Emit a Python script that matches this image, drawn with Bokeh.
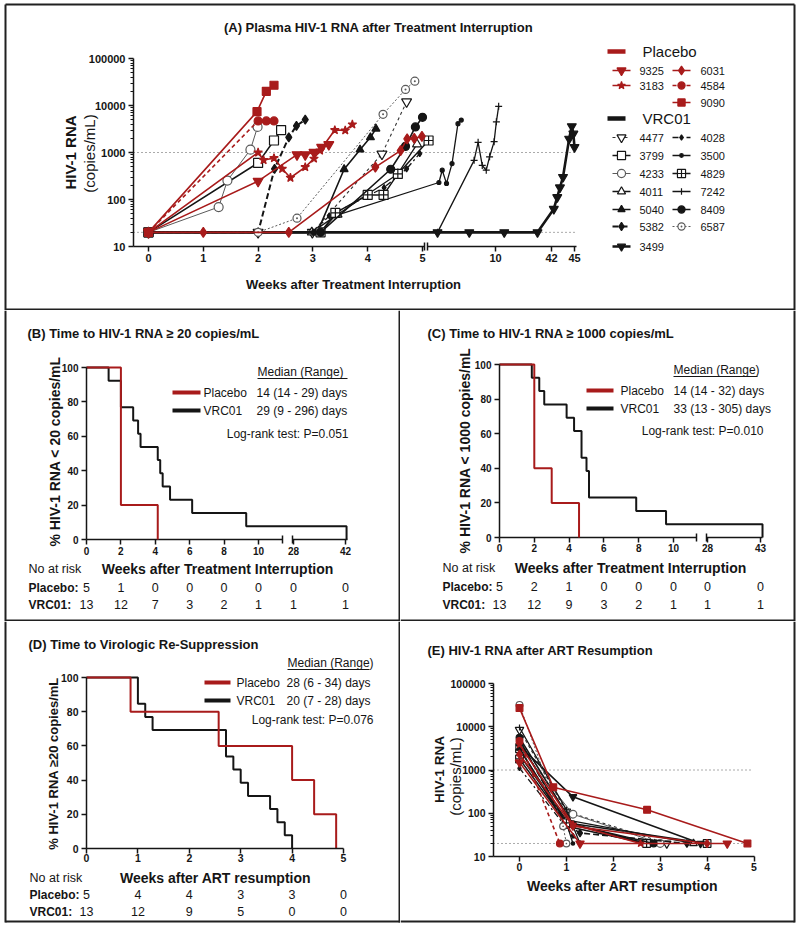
import math
from bokeh.plotting import figure
from bokeh.models import Range1d, FixedTicker, Label, NumeralTickFormatter
from bokeh.layouts import column, row
from bokeh.embed import file_html
from bokeh.resources import INLINE

FONT = "Liberation Sans"
RED = "#A81B1B"
INK = "#151515"
GREY = "#5a5a5a"

# ============================ DATA ============================
# (A) plasma HIV-1 RNA (copies/mL) vs weeks after treatment interruption
A_9325_wk = [0, 2.0, 2.71, 2.86, 3.02, 3.16, 3.29]
A_9325_rna = [20, 245, 900, 900, 1010, 1290, 1480]
A_3183_wk = [0, 2.0, 2.1, 2.29, 2.44, 2.59, 2.86, 3.02, 3.13, 3.4, 3.59, 3.72]
A_3183_rna = [20, 1000, 690, 760, 450, 290, 490, 740, 1100, 3000, 2950, 3950]
A_6031_wk = [0, 1.0, 2.56, 4.14, 4.6, 4.72, 4.85, 4.99]
A_6031_rna = [20, 20, 20, 490, 1100, 1950, 2000, 2200]
A_4584_wk = [0, 2.0, 2.15, 2.29]
A_4584_rna = [20, 4700, 4700, 4700]
A_9090_wk = [0, 1.98, 2.15, 2.29]
A_9090_rna = [20, 7400, 20000, 27000]
A_4477_wk = [0, 2.0, 2.99, 4.26, 4.71]
A_4477_rna = [20, 20, 20, 930, 12000]
A_3799_wk = [0, 2.0, 2.29, 2.42]
A_3799_rna = [20, 600, 1800, 3000]
A_4233_wk = [0, 1.28, 1.44, 1.86, 1.99]
A_4233_rna = [20, 69, 253, 1150, 3500]
A_4011_wk = [0, 2.98, 3.45, 4.55, 4.9]
A_4011_rna = [20, 20, 48, 350, 1500]
A_5040_wk = [0, 3.08, 3.57, 3.86, 4.05, 4.15]
A_5040_rna = [20, 20, 440, 1150, 2100, 3200]
A_5382_wk = [0, 2.0, 2.3, 2.56, 2.7, 2.86]
A_5382_rna = [20, 20, 450, 2100, 3700, 5000]
A_3499_wk = [0, 5.8, 8.1, 15.0, 34.0, 42.3, 42.75, 43.1, 43.5, 44.3, 44.65, 44.85, 45.0]
A_3499_rna = [20, 20, 20, 20, 20, 63, 112, 180, 300, 1950, 3600, 2500, 1300]
A_4028_wk = [0, 3.0, 3.3, 4.3, 4.71, 4.95]
A_4028_rna = [20, 20, 45, 180, 450, 950]
A_3500_wk = [0, 3.14, 3.4, 5.9, 6.14, 6.45, 6.85, 7.28, 7.52]
A_3500_rna = [20, 20, 45, 230, 420, 220, 580, 4100, 4900]
A_4829_wk = [0, 3.14, 3.41, 4.0, 4.29, 4.55, 5.15]
A_4829_rna = [20, 20, 52, 125, 125, 350, 1800]
A_7242_wk = [0, 5.8, 8.45, 8.74, 9.04, 9.33, 9.57, 9.9, 10.5, 11.8]
A_7242_rna = [20, 20, 680, 1650, 530, 420, 810, 1700, 4500, 9600]
A_8409_wk = [0, 3.14, 4.42, 4.69, 4.87, 5.0]
A_8409_rna = [20, 20, 440, 1350, 3500, 5600]
A_6587_wk = [0, 2.0, 2.71, 4.28, 4.69, 4.86]
A_6587_rna = [20, 20, 40, 6500, 22000, 33000]
A_XTICKS = [0, 1, 2, 3, 4, 5, 10, 42, 45]
RNA_YTICKS = [10, 100, 1000, 10000, 100000]
RNA_THRESHOLDS = [20, 1000]

# (E) HIV-1 RNA (copies/mL) vs weeks after ART resumption
E_9325_wk, E_9325_rna = [0, 1.29, 4.43], [1500, 20, 20]
E_3183_wk, E_3183_rna = [0, 1.14, 2.58], [3900, 55, 20]
E_6031_wk, E_6031_rna = [0, 1.14, 4.0], [2300, 50, 20]
E_4584_wk, E_4584_rna = [0, 0.86], [4700, 20]
E_9090_wk, E_9090_rna = [0, 0.72, 2.72, 4.86], [27000, 400, 120, 20]
E_4477_wk, E_4477_rna = [0, 1.0, 3.14], [8500, 110, 20]
E_3799_wk, E_3799_rna = [0, 1.0, 4.0], [3100, 60, 20]
E_4233_wk, E_4233_rna = [0, 1.14, 3.0], [3400, 95, 20]
E_4011_wk, E_4011_rna = [0, 1.0, 3.71], [2200, 70, 20]
E_5040_wk, E_5040_rna = [0, 1.0, 2.71], [3200, 50, 20]
E_5382_wk, E_5382_rna = [0, 1.0, 1.29, 3.57], [5000, 55, 35, 20]
E_3499_wk, E_3499_rna = [0, 1.14, 3.86], [3600, 240, 20]
E_4028_wk, E_4028_rna = [0, 1.14, 1.29], [1100, 30, 20]
E_3500_wk, E_3500_rna = [0, 1.0, 1.14], [4900, 60, 20]
E_4829_wk, E_4829_rna = [0, 1.0, 2.71], [1800, 60, 20]
E_7242_wk, E_7242_rna = [0, 1.0, 1.29], [9600, 120, 20]
E_8409_wk, E_8409_rna = [0, 1.14, 2.86], [5600, 55, 20]
E_6587_wk, E_6587_rna = [0, 0.93, 1.0], [32000, 50, 20]
E_XTICKS = [0, 1, 2, 3, 4, 5]

# (B) days to HIV-1 RNA >= 20 copies/mL
B_placebo_days = [14, 14, 14, 14, 29]
B_vrc01_days = [9, 14, 14, 19, 21, 22, 29, 30, 31, 34, 43, 65, 296]
B_XTICKS = [0, 2, 4, 6, 8, 10, 28, 42]
B_nar_placebo = [5, 1, 0, 0, 0, 0, 0, 0]
B_nar_vrc01 = [13, 12, 7, 3, 2, 1, 1, 1]
B_median = ["14 (14 - 29) days", "29 (9 - 296) days"]
B_logrank = "Log-rank test: P=0.051"

# (C) days to HIV-1 RNA >= 1000 copies/mL
C_placebo_days = [14, 14, 14, 21, 32]
C_vrc01_days = [13, 16, 18, 27, 30, 33, 33, 35, 36, 36, 55, 67, 305]
C_XTICKS = [0, 2, 4, 6, 8, 10, 28, 43]
C_nar_placebo = [5, 2, 1, 0, 0, 0, 0, 0]
C_nar_vrc01 = [13, 12, 9, 3, 2, 1, 1, 1]
C_median = ["14 (14 - 32) days", "33 (13 - 305) days"]
C_logrank = "Log-rank test: P=0.010"

# (D) days to virologic re-suppression after ART resumption
D_placebo_days = [6, 18, 28, 31, 34]
D_vrc01_days = [7, 7, 8, 9, 19, 19, 20, 21, 22, 25, 26, 27, 28]
D_XTICKS = [0, 1, 2, 3, 4, 5]
D_nar_placebo = [5, 4, 4, 3, 3, 0]
D_nar_vrc01 = [13, 12, 9, 5, 0, 0]
D_median = ["28 (6 - 34) days", "20 (7 - 28) days"]
D_logrank = "Log-rank test: P=0.076"

KM_YTICKS = [0, 20, 40, 60, 80, 100]

# ============================ STYLES ============================
STY = {
    "9325": dict(c=RED, mc=RED, m="inverted_triangle", fill=RED, dash="solid", lw=1.6, s=10),
    "3183": dict(c=RED, mc=RED, m="star", fill=RED, dash="solid", lw=1.6, s=9),
    "6031": dict(c=RED, mc=RED, m="diamond", fill=RED, dash="solid", lw=1.6, s=10),
    "4584": dict(c=RED, mc=RED, m="circle", fill=RED, dash="4 3", lw=1.6, s=8),
    "9090": dict(c=RED, mc=RED, m="square", fill=RED, dash="solid", lw=1.6, s=8),
    "4477": dict(c="#333333", mc=INK, m="inverted_triangle", fill="white", dash="3 3", lw=1.1, s=10),
    "3799": dict(c=INK, mc=INK, m="square", fill="white", dash="solid", lw=1.5, s=9),
    "4233": dict(c=GREY, mc=GREY, m="circle", fill="white", dash="solid", lw=1.0, s=9),
    "4011": dict(c=INK, mc=INK, m="triangle", fill="white", dash="solid", lw=1.3, s=9),
    "5040": dict(c=INK, mc=INK, m="triangle", fill=INK, dash="solid", lw=1.6, s=8),
    "5382": dict(c=INK, mc=INK, m="diamond", fill=INK, dash="6 3", lw=2.0, s=9),
    "3499": dict(c=INK, mc=INK, m="inverted_triangle", fill=INK, dash="solid", lw=2.6, s=9),
    "4028": dict(c=INK, mc=INK, m="diamond", fill=INK, dash="6 3 2 3", lw=1.3, s=6),
    "3500": dict(c=INK, mc=INK, m="circle", fill=INK, dash="solid", lw=1.3, s=4),
    "4829": dict(c=INK, mc=INK, m="square_cross", fill="white", dash="solid", lw=1.5, s=9),
    "7242": dict(c=INK, mc=INK, m="cross", fill=INK, dash="solid", lw=1.3, s=7),
    "8409": dict(c=INK, mc=INK, m="circle", fill=INK, dash="solid", lw=1.6, s=8),
    "6587": dict(c=GREY, mc=GREY, m="circle_dot", fill="white", dash="2 2", lw=1.0, s=8),
}
VRC_IDS = ["4477", "3799", "4233", "4011", "5040", "5382", "3499",
           "4028", "3500", "4829", "7242", "8409", "6587"]
PLA_IDS = ["9325", "3183", "6031", "4584", "9090"]
A_SER = {"9325": (A_9325_wk, A_9325_rna), "3183": (A_3183_wk, A_3183_rna),
         "6031": (A_6031_wk, A_6031_rna), "4584": (A_4584_wk, A_4584_rna),
         "9090": (A_9090_wk, A_9090_rna), "4477": (A_4477_wk, A_4477_rna),
         "3799": (A_3799_wk, A_3799_rna), "4233": (A_4233_wk, A_4233_rna),
         "4011": (A_4011_wk, A_4011_rna), "5040": (A_5040_wk, A_5040_rna),
         "5382": (A_5382_wk, A_5382_rna), "3499": (A_3499_wk, A_3499_rna),
         "4028": (A_4028_wk, A_4028_rna), "3500": (A_3500_wk, A_3500_rna),
         "4829": (A_4829_wk, A_4829_rna), "7242": (A_7242_wk, A_7242_rna),
         "8409": (A_8409_wk, A_8409_rna), "6587": (A_6587_wk, A_6587_rna)}
E_SER = {"9325": (E_9325_wk, E_9325_rna), "3183": (E_3183_wk, E_3183_rna),
         "6031": (E_6031_wk, E_6031_rna), "4584": (E_4584_wk, E_4584_rna),
         "9090": (E_9090_wk, E_9090_rna), "4477": (E_4477_wk, E_4477_rna),
         "3799": (E_3799_wk, E_3799_rna), "4233": (E_4233_wk, E_4233_rna),
         "4011": (E_4011_wk, E_4011_rna), "5040": (E_5040_wk, E_5040_rna),
         "5382": (E_5382_wk, E_5382_rna), "3499": (E_3499_wk, E_3499_rna),
         "4028": (E_4028_wk, E_4028_rna), "3500": (E_3500_wk, E_3500_rna),
         "4829": (E_4829_wk, E_4829_rna), "7242": (E_7242_wk, E_7242_rna),
         "8409": (E_8409_wk, E_8409_rna), "6587": (E_6587_wk, E_6587_rna)}


# ============================ HELPERS ============================
class Geo:
    """Panel geometry in page pixels; converts page px <-> data units."""
    def __init__(self, box, xpx0, xppu, ypx0, yppu, ylog=False, segs=None):
        self.box = box
        self.xpx0, self.xppu, self.ypx0, self.yppu = xpx0, xppu, ypx0, yppu
        self.ylog, self.segs = ylog, segs

    def x(self, px):
        return (px - self.xpx0) / self.xppu

    def y(self, py):
        v = (self.ypx0 - py) / self.yppu
        return 10 ** (1 + v) if self.ylog else v

    def w(self, weeks):  # weeks -> x data (broken axes)
        if not self.segs:
            return weeks
        for (w0, w1, p0, p1) in self.segs:
            if weeks <= w1:
                return self.x(p0 + (weeks - w0) * (p1 - p0) / (w1 - w0))
        w0, w1, p0, p1 = self.segs[-1]
        return self.x(p0 + (weeks - w0) * (p1 - p0) / (w1 - w0))


def make_fig(g, borders):
    bx, by, bw, bh = g.box
    p = figure(width=bw, height=bh,
               x_range=Range1d(g.x(bx), g.x(bx + bw)), y_range=Range1d(g.y(by + bh), g.y(by)),
               y_axis_type="log" if g.ylog else "linear",
               output_backend="svg", toolbar_location=None, min_border=0,
               min_border_left=0, min_border_right=0, min_border_top=0, min_border_bottom=0)
    p.xgrid.visible = False
    p.ygrid.visible = False
    p.outline_line_color = None
    p.background_fill_color = "white"
    p.border_fill_color = "white"
    for (x1, y1, x2, y2) in borders:
        p.line([g.x(x1), g.x(x2)], [g.y(y1), g.y(y2)], line_color="#202020", line_width=2)
    return p


def style_axis(ax, size="11px"):
    ax.axis_line_color = INK
    ax.axis_line_width = 1.5
    ax.major_tick_line_color = INK
    ax.major_tick_line_width = 1.5
    ax.minor_tick_line_color = INK
    ax.minor_tick_line_width = 1.1
    ax.major_label_text_font = FONT
    ax.major_label_text_font_style = "bold"
    ax.major_label_text_font_size = size
    ax.major_label_text_color = INK


def label(p, g, px, py, text, size, bold=False, align="left", angle=0.0, color=INK):
    p.add_layout(Label(x=g.x(px), y=g.y(py), text=text, text_font=FONT,
                       text_font_size=size, text_font_style="bold" if bold else "normal",
                       text_align=align, text_baseline="middle", angle=angle,
                       text_color=color))


def seg(p, g, px1, px2, py, color, width, dash="solid"):
    p.line([g.x(px1), g.x(px2)], [g.y(py), g.y(py)], line_color=color,
           line_width=width, line_dash=dash)


def draw_subject(p, g, wk, rna, st, scale=1.0, max_lw=None):
    xs = [g.w(w) for w in wk]
    lw = st["lw"] if max_lw is None else min(st["lw"], max_lw)
    p.line(xs, rna, line_color=st["c"], line_width=lw, line_dash=st["dash"])
    p.scatter(xs, rna, marker=st["m"], size=st["s"] * scale, fill_color=st["fill"],
              line_color=st["mc"], line_width=1.2)


def km_xy(days):
    n = len(days)
    xs, ys = [0.0], [100.0]
    left, s = n, 100.0
    for t in sorted(set(days)):
        wk = t / 7.0
        xs.append(wk); ys.append(s)
        left -= days.count(t)
        s = 100.0 * left / n
        xs.append(wk); ys.append(s)
    return xs, ys


def rna_yaxis(ax, size, at_x):
    style_axis(ax, size)
    ax.fixed_location = at_x
    ax.ticker = FixedTicker(ticks=RNA_YTICKS,
                            minor_ticks=[m * 10 ** k for k in range(1, 5) for m in range(2, 10)])
    ax.formatter = NumeralTickFormatter(format="0")
    ax.bounds = (10, 100000)
    ax.major_tick_in = 0
    ax.major_tick_out = 5
    ax.minor_tick_in = 0
    ax.minor_tick_out = 3
    ax.major_label_standoff = 3


# ============================ PANEL A ============================
gA = Geo(box=(0, 0, 800, 310), xpx0=148, xppu=54.8, ypx0=246, yppu=47, ylog=True,
         segs=[(0, 5, 148, 422), (5, 10, 426, 495), (10, 42, 495, 551), (42, 45, 551, 574)])
pA = make_fig(gA, [(5, 4, 794, 4), (5, 4, 5, 310), (794, 4, 794, 310), (5, 309, 794, 309)])
xa = pA.xaxis[0]
style_axis(xa, "11px")
xa.fixed_location = 10
xa.ticker = FixedTicker(ticks=[gA.w(t) for t in A_XTICKS])
xa.major_label_overrides = {gA.w(t): str(t) for t in A_XTICKS}
xa.axis_line_color = None
xa.major_tick_in = 0
xa.major_tick_out = 5
xa.major_label_standoff = 2
rna_yaxis(pA.yaxis[0], "11px", gA.x(133))

for v in RNA_THRESHOLDS:
    pA.line([gA.x(133), gA.x(576)], [v, v], line_color="#555555", line_width=1, line_dash="1 3")
pA.multi_line(xs=[[gA.x(133), gA.x(424)], [gA.x(427), gA.x(576)]], ys=[[10, 10], [10, 10]],
              line_color=INK, line_width=1.5)
pA.multi_line(xs=[[gA.x(424)] * 2, [gA.x(427)] * 2], ys=[[gA.y(250), gA.y(242)]] * 2,
              line_color=INK, line_width=1.5)

for sid in VRC_IDS + PLA_IDS:
    wk, rna = A_SER[sid]
    draw_subject(pA, gA, wk, rna, STY[sid])

# legend (A)
seg(pA, gA, 607, 625, 51, RED, 4.5)
label(pA, gA, 642, 51, "Placebo", "15px")
seg(pA, gA, 607, 625, 118, INK, 4.5)
label(pA, gA, 642, 118, "VRC01", "15px")
LEG_COLS = {"L": (612, 630, 639), "R": (672, 690, 700)}
LEG_A = [("9325", "L", 70), ("3183", "L", 85), ("6031", "R", 70), ("4584", "R", 85),
         ("9090", "R", 102), ("4477", "L", 137), ("3799", "L", 155), ("4233", "L", 173),
         ("4011", "L", 191), ("5040", "L", 209), ("5382", "L", 226), ("3499", "L", 246),
         ("4028", "R", 137), ("3500", "R", 155), ("4829", "R", 173), ("7242", "R", 191),
         ("8409", "R", 209), ("6587", "R", 226)]
for sid, col, py in LEG_A:
    x1, x2, tx = LEG_COLS[col]
    st = STY[sid]
    pA.line([gA.x(x1), gA.x(x2)], [gA.y(py)] * 2, line_color=st["c"], line_width=st["lw"],
            line_dash=st["dash"])
    pA.scatter([gA.x((x1 + x2) / 2)], [gA.y(py)], marker=st["m"], size=st["s"] * 0.9,
               fill_color=st["fill"], line_color=st["mc"], line_width=1.2)
    label(pA, gA, tx, py, sid, "11px")

label(pA, gA, 378, 27, "(A) Plasma HIV-1 RNA after Treatment Interruption", "13px", True, "center")
label(pA, gA, 353, 284, "Weeks after Treatment Interruption", "13px", True, "center")
label(pA, gA, 70, 152, "HIV-1 RNA", "15px", True, "center", math.pi / 2)
label(pA, gA, 89, 153, "(copies/mL)", "15px", False, "center", math.pi / 2)


# ============================ KM PANELS ============================
def km_panel(g, sp):
    p = make_fig(g, sp["borders"])
    xa = p.xaxis[0]
    style_axis(xa, sp["tick_fs"])
    xa.fixed_location = 0
    xa.ticker = FixedTicker(ticks=[g.w(t) for t in sp["xticks"]])
    xa.major_label_overrides = {g.w(t): str(t) for t in sp["xticks"]}
    xa.major_tick_in = 0
    xa.major_tick_out = 5
    xa.major_label_standoff = sp["standoff"]
    if sp["axis_px"]:
        xa.axis_line_color = None
        a = sp["axis_px"]
        p.multi_line(xs=[[g.x(a[0][0]), g.x(a[0][1])], [g.x(a[1][0]), g.x(a[1][1])]],
                     ys=[[0, 0], [0, 0]], line_color=INK, line_width=1.5)
        p.multi_line(xs=[[g.x(a[0][1])] * 2, [g.x(a[1][0])] * 2],
                     ys=[[g.y(g.ypx0 + 4), g.y(g.ypx0 - 4)]] * 2, line_color=INK, line_width=1.5)
    else:
        xa.bounds = (sp["xticks"][0], sp["xticks"][-1])
    ya = p.yaxis[0]
    style_axis(ya, sp["tick_fs"])
    ya.fixed_location = 0
    ya.ticker = FixedTicker(ticks=KM_YTICKS)
    ya.bounds = (0, 100)
    ya.major_tick_in = 0
    ya.major_tick_out = 5
    ya.major_label_standoff = 3

    for days, col in ((sp["vr"], INK), (sp["pl"], RED)):
        wk, s = km_xy(days)
        p.line([g.w(v) for v in wk], s, line_color=col, line_width=2)

    lg = sp["leg"]
    label(p, g, lg["mx"], lg["my"], "Median (Range)", "12px")
    seg(p, g, lg["mx"], lg["mx2"], lg["my"] + 7, INK, 1)
    for (name, col, py, med) in (("Placebo", RED, lg["y1"], sp["median"][0]),
                                  ("VRC01", INK, lg["y2"], sp["median"][1])):
        seg(p, g, lg["lx1"], lg["lx2"], py, col, 4)
        label(p, g, lg["tx"], py, name, lg["fs"])
        label(p, g, lg["dx"], py, med, lg["fs"])
    label(p, g, lg["rx"], lg["ry"], sp["logrank"], lg["fs"], False, "right")

    label(p, g, sp["title_xy"][0], sp["title_xy"][1], sp["title"], "13px", True)
    label(p, g, sp["ylab_xy"][0], sp["ylab_xy"][1], sp["ylab"], sp["ylab_fs"], True, "center", math.pi / 2)
    label(p, g, sp["xlab_xy"][0], sp["xlab_xy"][1], sp["xlab"], "14px", True, "center")
    nx, ny = sp["nar_xy"]
    label(p, g, nx, ny, "No at risk", "12.5px")
    for name, counts, py in (("Placebo:", sp["nar_pl"], sp["nar_rows"][0]),
                             ("VRC01:", sp["nar_vr"], sp["nar_rows"][1])):
        label(p, g, nx, py, name, "12px", True)
        for t, n in zip(sp["xticks"], counts):
            p.add_layout(Label(x=g.w(t), y=g.y(py), text=str(n), text_font=FONT,
                               text_font_size="12.5px", text_align="center",
                               text_baseline="middle", text_color=INK))
    return p


gB = Geo(box=(0, 310, 400, 311), xpx0=86, xppu=17.2, ypx0=539, yppu=1.72,
         segs=[(0, 10, 86, 258), (28, 42, 293, 345)])
pB = km_panel(gB, dict(
    borders=[(5, 310, 5, 621), (5, 620, 400, 620), (399, 310, 399, 621)],
    xticks=B_XTICKS, standoff=2, tick_fs="10px", axis_px=[(86, 282), (292, 347)],
    vr=B_vrc01_days, pl=B_placebo_days, median=B_median, logrank=B_logrank,
    leg=dict(mx=257, mx2=347, my=371, lx1=172, lx2=200, tx=203, dx=256, y1=392, y2=410,
             rx=348, ry=433, fs="12px"),
    title="(B) Time to HIV-1 RNA \u2265 20 copies/mL", title_xy=(27, 333),
    ylab="% HIV-1 RNA < 20 copies/mL", ylab_xy=(54, 451), ylab_fs="14px",
    xlab="Weeks after Treatment Interruption", xlab_xy=(217, 568),
    nar_xy=(28, 568), nar_rows=(587, 604), nar_pl=B_nar_placebo, nar_vr=B_nar_vrc01))

gC = Geo(box=(400, 310, 400, 311), xpx0=499, xppu=17.4, ypx0=537, yppu=1.73,
         segs=[(0, 10, 499, 673), (28, 43, 707, 760)])
pC = km_panel(gC, dict(
    borders=[(794, 310, 794, 621), (400, 620, 794, 620)],
    xticks=C_XTICKS, standoff=1, tick_fs="10px", axis_px=[(499, 696), (706, 762)],
    vr=C_vrc01_days, pl=C_placebo_days, median=C_median, logrank=C_logrank,
    leg=dict(mx=673, mx2=757, my=369, lx1=586, lx2=613, tx=620, dx=673, y1=390, y2=408,
             rx=763, ry=430, fs="12px"),
    title="(C) Time to HIV-1 RNA \u2265 1000 copies/mL", title_xy=(427, 333),
    ylab="% HIV-1 RNA < 1000 copies/mL", ylab_xy=(464, 450), ylab_fs="14px",
    xlab="Weeks after Treatment Interruption", xlab_xy=(630, 567),
    nar_xy=(442, 567), nar_rows=(586, 604), nar_pl=C_nar_placebo, nar_vr=C_nar_vrc01))

gD = Geo(box=(0, 621, 400, 305), xpx0=86, xppu=51.4, ypx0=848, yppu=1.71)
pD = km_panel(gD, dict(
    borders=[(5, 621, 5, 922), (5, 921, 400, 921), (399, 621, 399, 922)],
    xticks=D_XTICKS, standoff=0, tick_fs="10.5px", axis_px=None,
    vr=D_vrc01_days, pl=D_placebo_days, median=D_median, logrank=D_logrank,
    leg=dict(mx=287, mx2=369, my=662, lx1=204, lx2=230, tx=236, dx=286, y1=682, y2=700,
             rx=373, ry=719, fs="12px"),
    title="(D) Time to Virologic Re-Suppression", title_xy=(28, 644),
    ylab="% HIV-1 RNA \u226520 copies/mL", ylab_xy=(53, 763), ylab_fs="13px",
    xlab="Weeks after ART resumption", xlab_xy=(215, 877),
    nar_xy=(29, 877), nar_rows=(894, 911), nar_pl=D_nar_placebo, nar_vr=D_nar_vrc01))

# ============================ PANEL E ============================
gE = Geo(box=(400, 621, 400, 305), xpx0=519, xppu=46.9, ypx0=856, yppu=43.25, ylog=True)
pE = make_fig(gE, [(794, 621, 794, 922), (400, 921, 794, 921)])
xe = pE.xaxis[0]
style_axis(xe, "10.5px")
xe.fixed_location = 10
xe.ticker = FixedTicker(ticks=E_XTICKS)
xe.bounds = (gE.x(493), 5)
xe.major_tick_in = 0
xe.major_tick_out = 5
xe.major_label_standoff = 1
rna_yaxis(pE.yaxis[0], "10.5px", gE.x(493))
for v in RNA_THRESHOLDS:
    pE.line([gE.x(493), gE.x(753)], [v, v], line_color="#555555", line_width=1, line_dash="1 3")
for sid in VRC_IDS + PLA_IDS:
    wk, rna = E_SER[sid]
    draw_subject(pE, gE, wk, rna, STY[sid], 0.85, 1.6)
label(pE, gE, 427, 650, "(E) HIV-1 RNA after ART Resumption", "13px", True)
label(pE, gE, 439, 769, "HIV-1 RNA", "13.5px", True, "center", math.pi / 2)
label(pE, gE, 455, 776, "(copies/mL)", "15px", False, "center", math.pi / 2)
label(pE, gE, 622, 885, "Weeks after ART resumption", "14px", True, "center")

layout = column(pA, row(pB, pC), row(pD, pE))
with open("out.html", "w") as f:
    f.write(file_html(layout, INLINE, title="HIV-1 RNA after treatment interruption"))
